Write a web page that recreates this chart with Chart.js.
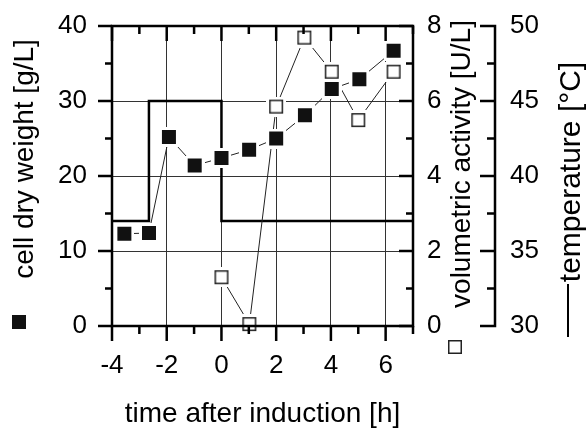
<!DOCTYPE html>
<html>
<head>
<meta charset="utf-8">
<script src="https://cdn.jsdelivr.net/npm/chart.js@4/dist/chart.umd.min.js"></script>
<style>
    html, body { margin: 0; padding: 0; background: #fff; }
    #wrap { width: 587px; height: 428px; position: relative; }
</style>
</head>
<body>
<div id="wrap"><canvas id="chart"></canvas></div>
<script>
// time after induction [h] for the dry weight samples
const timeCdw = [-3.55, -2.65, -1.92, -0.98, 0, 1.01, 2, 3.05, 4.03, 5.04, 6.29];
const cellDryWeight = [12.3, 12.4, 25.2, 21.4, 22.4, 23.5, 25.0, 28.1, 31.6, 32.9, 36.7];

// volumetric activity [U/L]
const timeActivity = [0, 1.02, 2, 3.03, 4.03, 5.0, 6.29];
const activity = [1.30, 0.05, 5.85, 7.69, 6.78, 5.49, 6.78];

// temperature profile (step changes) [°C]
const timeTemp = [-4, -2.65, 0, 7];
const temperature = [37, 45, 37, 37];

const FONT = 'Liberation Sans, Arial, sans-serif';

function squareMarker(filled) {
    const c = document.createElement('canvas');
    c.width = 20;
    c.height = 20;
    const g = c.getContext('2d');
    g.fillStyle = '#fff';
    g.fillRect(0, 0, 20, 20);
    if (filled) {
        g.fillStyle = '#111';
        g.fillRect(3, 3, 14, 14);
    } else {
        g.strokeStyle = '#222';
        g.lineWidth = 1.5;
        g.strokeRect(3.75, 3.75, 12.5, 12.5);
    }
    return c;
}

const filledSquare = squareMarker(true);
const openSquare = squareMarker(false);

// frame with minor/major ticks (out on bottom/left, in on top/right) + the shared right axis
const framePlugin = {
    id: 'frame',
    afterDraw(chart) {
        const {ctx, chartArea: a, scales} = chart;
        ctx.save();
        ctx.strokeStyle = '#000';
        ctx.lineWidth = 2.5;
        ctx.lineCap = 'butt';
        ctx.strokeRect(a.left, a.top, a.right - a.left, a.bottom - a.top);

        ctx.beginPath();
        scales.x.ticks.forEach(t => {
            const px = scales.x.getPixelForValue(t.value);
            const len = t.value % 2 === 0 ? 15 : 8;
            ctx.moveTo(px, a.bottom);
            ctx.lineTo(px, a.bottom + len);
            ctx.moveTo(px, a.top);
            ctx.lineTo(px, a.top + len);
        });
        scales.y.ticks.forEach(t => {
            const py = scales.y.getPixelForValue(t.value);
            const len = t.value % 10 === 0 ? 14 : 7;
            ctx.moveTo(a.left - len, py);
            ctx.lineTo(a.left, py);
            ctx.moveTo(a.right, py);
            ctx.lineTo(a.right - len, py);
        });
        const y3 = scales.y3;
        const ax = y3.left;
        ctx.moveTo(ax, y3.getPixelForValue(y3.min));
        ctx.lineTo(ax, y3.getPixelForValue(y3.max));
        y3.ticks.forEach(t => {
            const py = y3.getPixelForValue(t.value);
            const len = t.value % 5 === 0 ? 15 : 8;
            ctx.moveTo(ax + 1.25, py);
            ctx.lineTo(ax - len, py);
        });
        ctx.stroke();

        // vertical axis titles with their symbols
        ctx.fillStyle = '#000';
        ctx.textAlign = 'center';
        ctx.textBaseline = 'middle';
        const vtext = (txt, x, y, size) => {
            ctx.save();
            ctx.font = size + 'px ' + FONT;
            ctx.translate(x, y);
            ctx.rotate(-Math.PI / 2);
            ctx.fillText(txt, 0, 0);
            ctx.restore();
        };
        vtext('cell dry weight [g/L]', 25, 159, 28);
        vtext('volumetric activity [U/L]', 462, 164, 28);
        vtext('temperature [°C]', 572, 172, 30);

        ctx.drawImage(filledSquare, 19 - 10, 322 - 10);
        ctx.drawImage(openSquare, 455 - 10, 347 - 10);
        ctx.lineWidth = 2;
        ctx.beginPath();
        ctx.moveTo(568, 284);
        ctx.lineTo(568, 337);
        ctx.stroke();
        ctx.restore();
    }
};

const tickFont = {family: FONT, size: 26};
const gridColor = (keep) => (c) => keep(c.tick.value) ? '#333' : 'rgba(0,0,0,0)';
// fixed axis sizes, no extra label overflow padding so the plot box lands where the original has it
const fixWidth = w => s => { s.width = w; s.paddingTop = 0; s.paddingBottom = 0; };

new Chart(document.getElementById('chart'), {
    type: 'line',
    data: {
        datasets: [{
            label: 'cell dry weight',
            data: timeCdw.map((t, i) => ({x: t, y: cellDryWeight[i]})),
            yAxisID: 'y',
            borderColor: '#222',
            borderWidth: 1,
            pointStyle: filledSquare,
            clip: false
        }, {
            label: 'volumetric activity',
            data: timeActivity.map((t, i) => ({x: t, y: activity[i]})),
            yAxisID: 'y2',
            borderColor: '#222',
            borderWidth: 1,
            pointStyle: openSquare,
            clip: false
        }, {
            label: 'temperature',
            data: timeTemp.map((t, i) => ({x: t, y: temperature[i]})),
            yAxisID: 'y3',
            borderColor: '#000',
            borderWidth: 2.5,
            stepped: 'before',
            pointRadius: 0,
            borderJoinStyle: 'miter',
            clip: false
        }]
    },
    options: {
        responsive: true,
        maintainAspectRatio: false,
        animation: false,
        events: [],
        layout: {padding: {top: 26, left: 0, right: 0, bottom: 0}},
        plugins: {legend: {display: false}, tooltip: {enabled: false}},
        scales: {
            x: {
                type: 'linear',
                position: 'bottom',
                min: -4,
                max: 7,
                afterFit: s => { s.height = 102; s.paddingLeft = 0; s.paddingRight = 0; },
                ticks: {
                    stepSize: 1,
                    autoSkip: false,
                    maxRotation: 0,
                    padding: 24,
                    color: '#000',
                    font: tickFont,
                    callback: v => v % 2 === 0 ? v : ''
                },
                grid: {drawTicks: false, lineWidth: 1, color: gridColor(v => v % 2 === 0 && v > -4 && v < 7)},
                border: {display: false},
                title: {
                    display: true,
                    text: 'time after induction [h]',
                    color: '#000',
                    font: {family: FONT, size: 28, lineHeight: 1},
                    padding: {top: 0, bottom: 0}
                }
            },
            y: {
                position: 'left',
                min: 0,
                max: 40,
                afterFit: fixWidth(112),
                ticks: {
                    stepSize: 5,
                    autoSkip: false,
                    padding: 25,
                    color: '#000',
                    font: tickFont,
                    callback: v => v % 10 === 0 ? v : ''
                },
                grid: {drawTicks: false, lineWidth: 1, color: gridColor(v => v % 10 === 0 && v > 0 && v < 40)},
                border: {display: false}
            },
            y2: {
                position: 'right',
                min: 0,
                max: 8,
                afterFit: fixWidth(82),
                ticks: {
                    stepSize: 1,
                    autoSkip: false,
                    padding: 6,
                    color: '#000',
                    font: tickFont,
                    callback: v => v % 2 === 0 ? v : ''
                },
                grid: {display: false},
                border: {display: false}
            },
            y3: {
                position: 'right',
                min: 30,
                max: 50,
                afterFit: fixWidth(92),
                ticks: {
                    stepSize: 2.5,
                    autoSkip: false,
                    padding: 7,
                    color: '#000',
                    font: tickFont,
                    callback: v => v % 5 === 0 ? v : ''
                },
                grid: {display: false},
                border: {display: false}
            }
        }
    },
    plugins: [framePlugin]
});
</script>
</body>
</html>
